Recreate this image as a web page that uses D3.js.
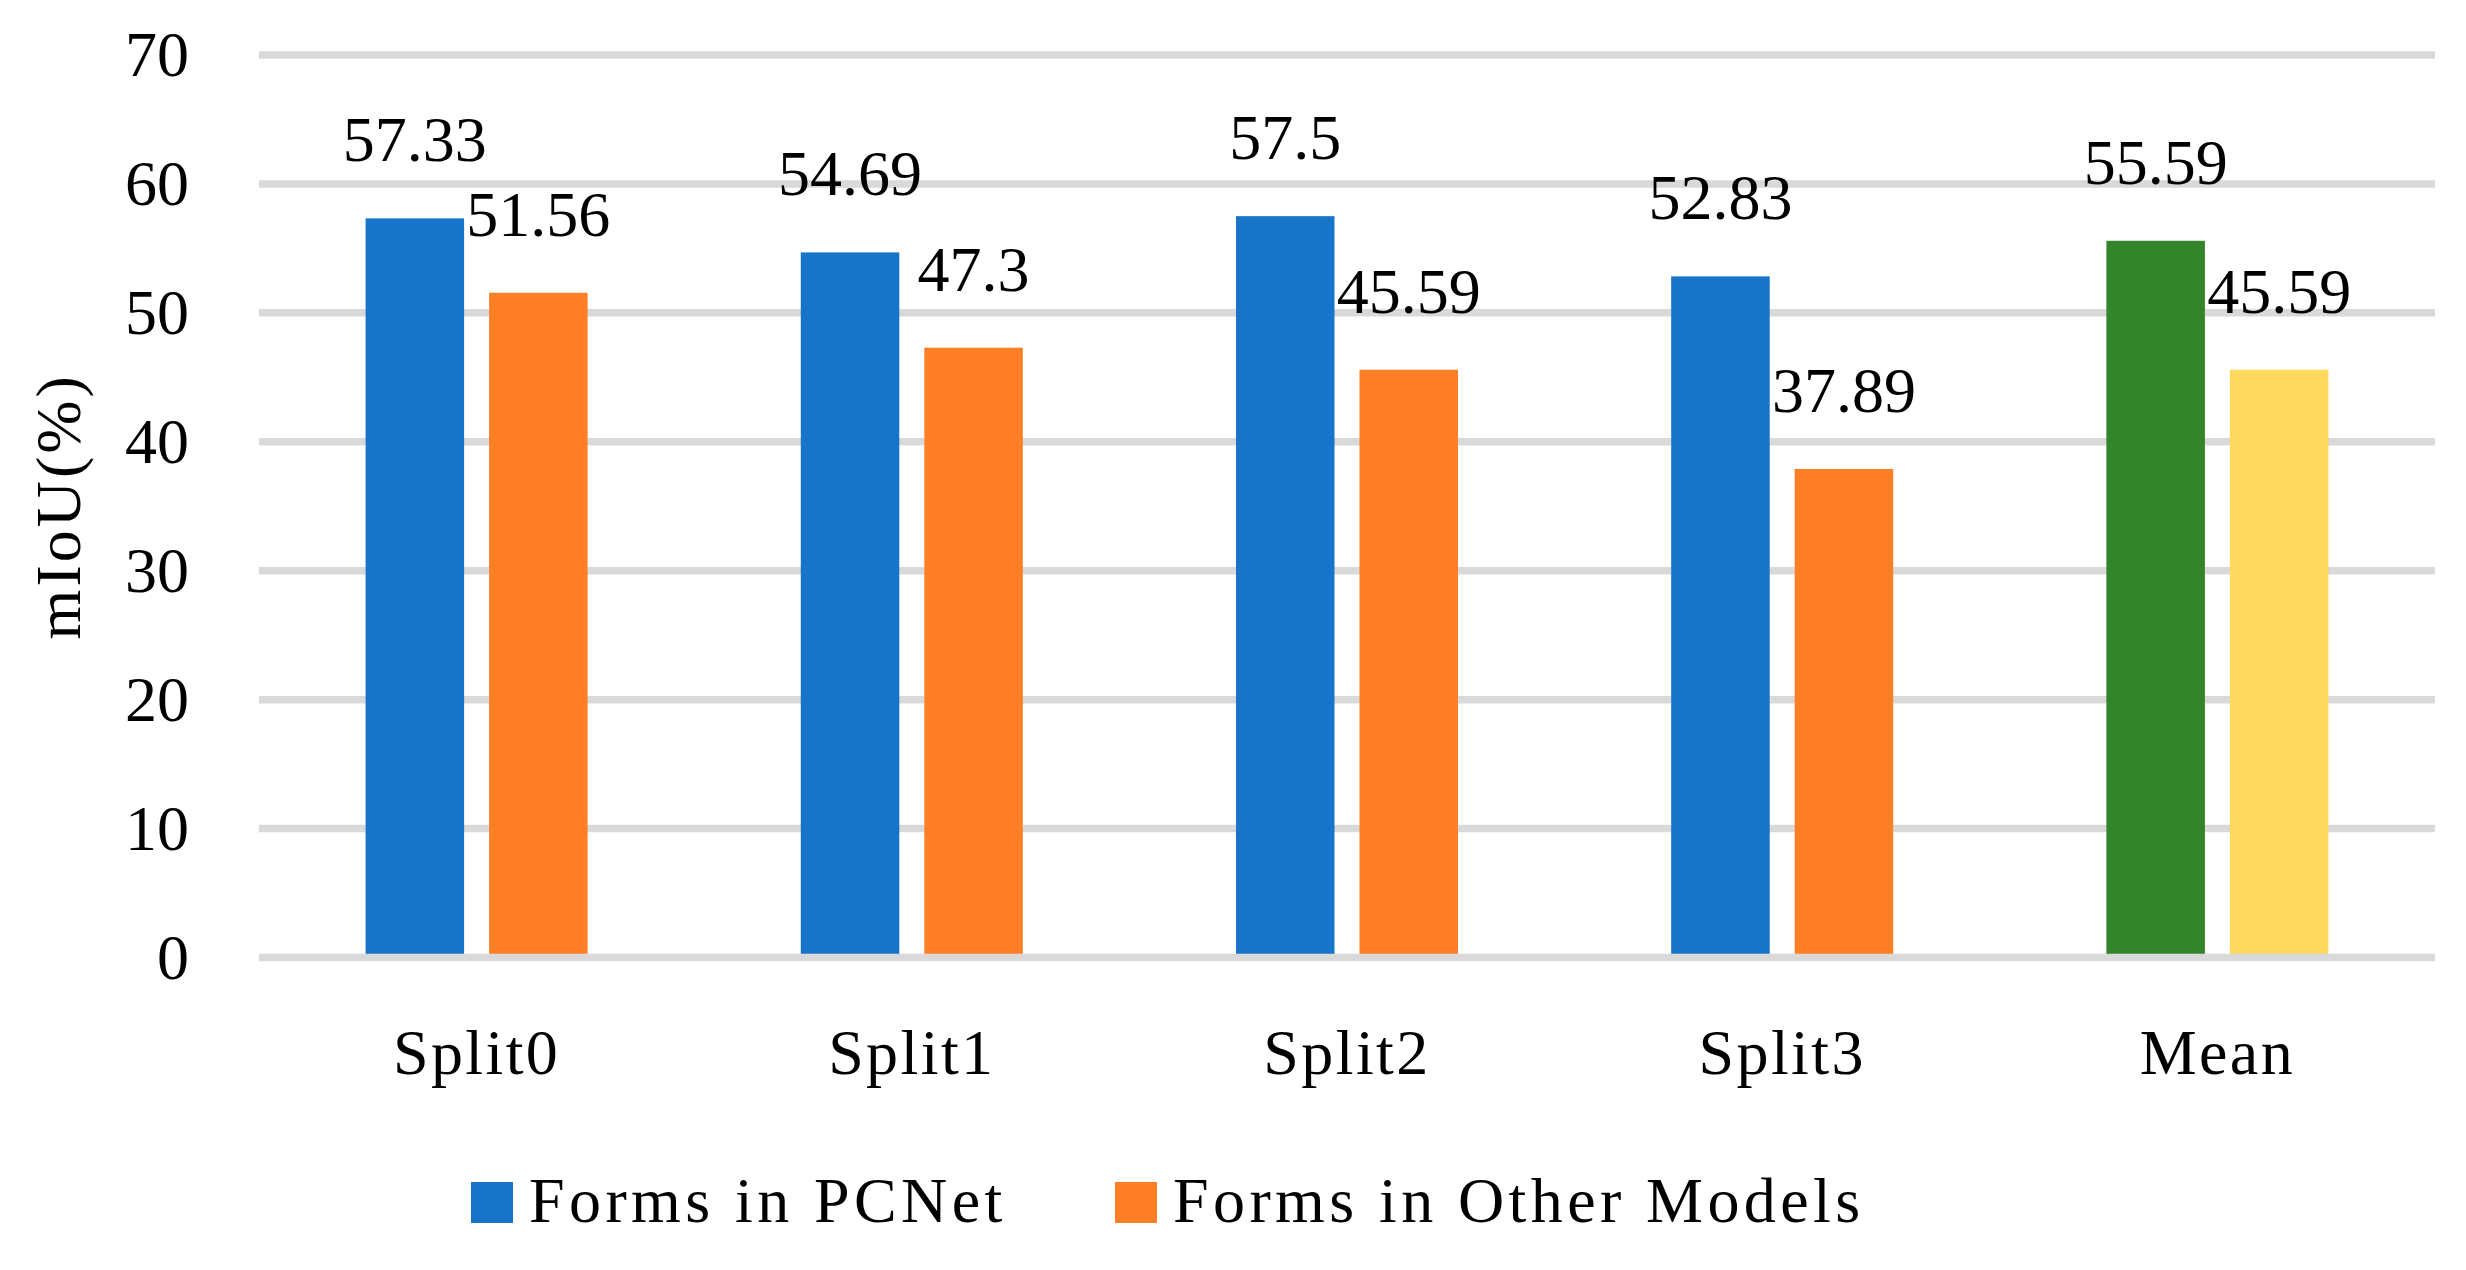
<!DOCTYPE html>
<html>
<head>
<meta charset="utf-8">
<script src="https://cdn.jsdelivr.net/npm/d3@7"></script>
<style>
  body { margin: 0; background: #fff; }
  text { font-family: "Liberation Serif", "Times New Roman", serif; fill: #000; }
</style>
</head>
<body>
<svg id="chart"></svg>
<script>
// [String]
const categories = ['Split0', 'Split1', 'Split2', 'Split3', 'Mean']
// [Number] mIoU per split
const pcnetValues = [57.33, 54.69, 57.5, 52.83, 55.59]
const otherValues = [51.56, 47.3, 45.59, 37.89, 45.59]
// [String]
const seriesNames = ['Forms in PCNet', 'Forms in Other Models']
// [Int]
const yTicks = [0, 10, 20, 30, 40, 50, 60, 70]
const yTitle = 'mIoU(%)'

const width  = 2466
const height = 1270

const translate = (x, y) => "translate(" + x + "," + y + ")"

const blue   = '#1874c9'
const orange = '#ff7f27'
const green  = '#33842b'
const yellow = '#ffd95e'
const grid   = '#d9d9d9'

// per-bar fill: the Mean group is drawn in its own colours
const fills = [
    (c) => c === 'Mean' ? green : blue,
    (c) => c === 'Mean' ? yellow : orange
]

const svg = d3.select('#chart')
    .attr('width', width)
    .attr('height', height)

const x0 = d3.scaleBand()
    .domain(categories)
    .range([259, 2435])

const x1 = d3.scaleBand()
    .domain([0, 1])
    .range([0, x0.bandwidth()])
    .paddingInner(0.2024)
    .paddingOuter(0.863)

const y = d3.scaleLinear()
    .domain([0, 70])
    .range([957.5, 55])

// gridlines (behind bars)
svg.append('g')
    .selectAll('line')
    .data(yTicks.filter((t) => t !== 0))
    .enter()
    .append('line')
    .attr('x1', x0.range()[0])
    .attr('x2', x0.range()[1])
    .attr('y1', (d) => y(d))
    .attr('y2', (d) => y(d))
    .attr('stroke', grid)
    .attr('stroke-width', 7.5)

// y tick labels
svg.append('g')
    .selectAll('text')
    .data(yTicks)
    .enter()
    .append('text')
    .attr('x', 189)
    .attr('y', (d) => y(d) + 21)
    .attr('text-anchor', 'end')
    .attr('font-size', 64)
    .text((d) => d)

// y axis title
svg.append('text')
    .attr('transform', translate(80, (y(0) + y(70)) / 2) + ' rotate(-90)')
    .attr('text-anchor', 'middle')
    .attr('font-size', 64)
    .attr('letter-spacing', 3)
    .text(yTitle)

const rows = categories.map((c, i) => ({
    category: c,
    values: [pcnetValues[i], otherValues[i]]
}))

const groups = svg.append('g')
    .selectAll('g')
    .data(rows)
    .enter()
    .append('g')
    .attr('transform', (d) => translate(x0(d.category), 0))

groups.selectAll('rect')
    .data((d) => d.values.map((v, s) => ({ category: d.category, series: s, value: v })))
    .enter()
    .append('rect')
    .attr('x', (d) => x1(d.series))
    .attr('width', x1.bandwidth())
    .attr('y', (d) => y(d.value))
    .attr('height', (d) => y(0) - y(d.value))
    .attr('fill', (d) => fills[d.series](d.category))

// value labels, well above each bar
groups.selectAll('text')
    .data((d) => d.values.map((v, s) => ({ series: s, value: v })))
    .enter()
    .append('text')
    .attr('x', (d) => x1(d.series) + x1.bandwidth() / 2)
    .attr('y', (d) => y(d.value) - 57)
    .attr('text-anchor', 'middle')
    .attr('font-size', 64)
    .text((d) => String(d.value))

// baseline on top of bars
svg.append('line')
    .attr('x1', x0.range()[0])
    .attr('x2', x0.range()[1])
    .attr('y1', y(0))
    .attr('y2', y(0))
    .attr('stroke', grid)
    .attr('stroke-width', 7.5)

// category labels
svg.append('g')
    .selectAll('text')
    .data(categories)
    .enter()
    .append('text')
    .attr('x', (d) => x0(d) + x0.bandwidth() / 2)
    .attr('y', 1074)
    .attr('text-anchor', 'middle')
    .attr('font-size', 64)
    .attr('letter-spacing', 2.4)
    .text((d) => d)

// legend
const legendX = [471, 1115]
const legend = svg.append('g')
    .selectAll('g')
    .data(seriesNames)
    .enter()
    .append('g')
    .attr('transform', (d, i) => translate(legendX[i], 1182))

legend.append('rect')
    .attr('width', 42)
    .attr('height', 41)
    .attr('fill', (d, i) => i === 0 ? blue : orange)

legend.append('text')
    .attr('x', 58)
    .attr('y', 40)
    .attr('font-size', 64)
    .attr('letter-spacing', 4.4)
    .text((d) => d)
</script>
</body>
</html>
